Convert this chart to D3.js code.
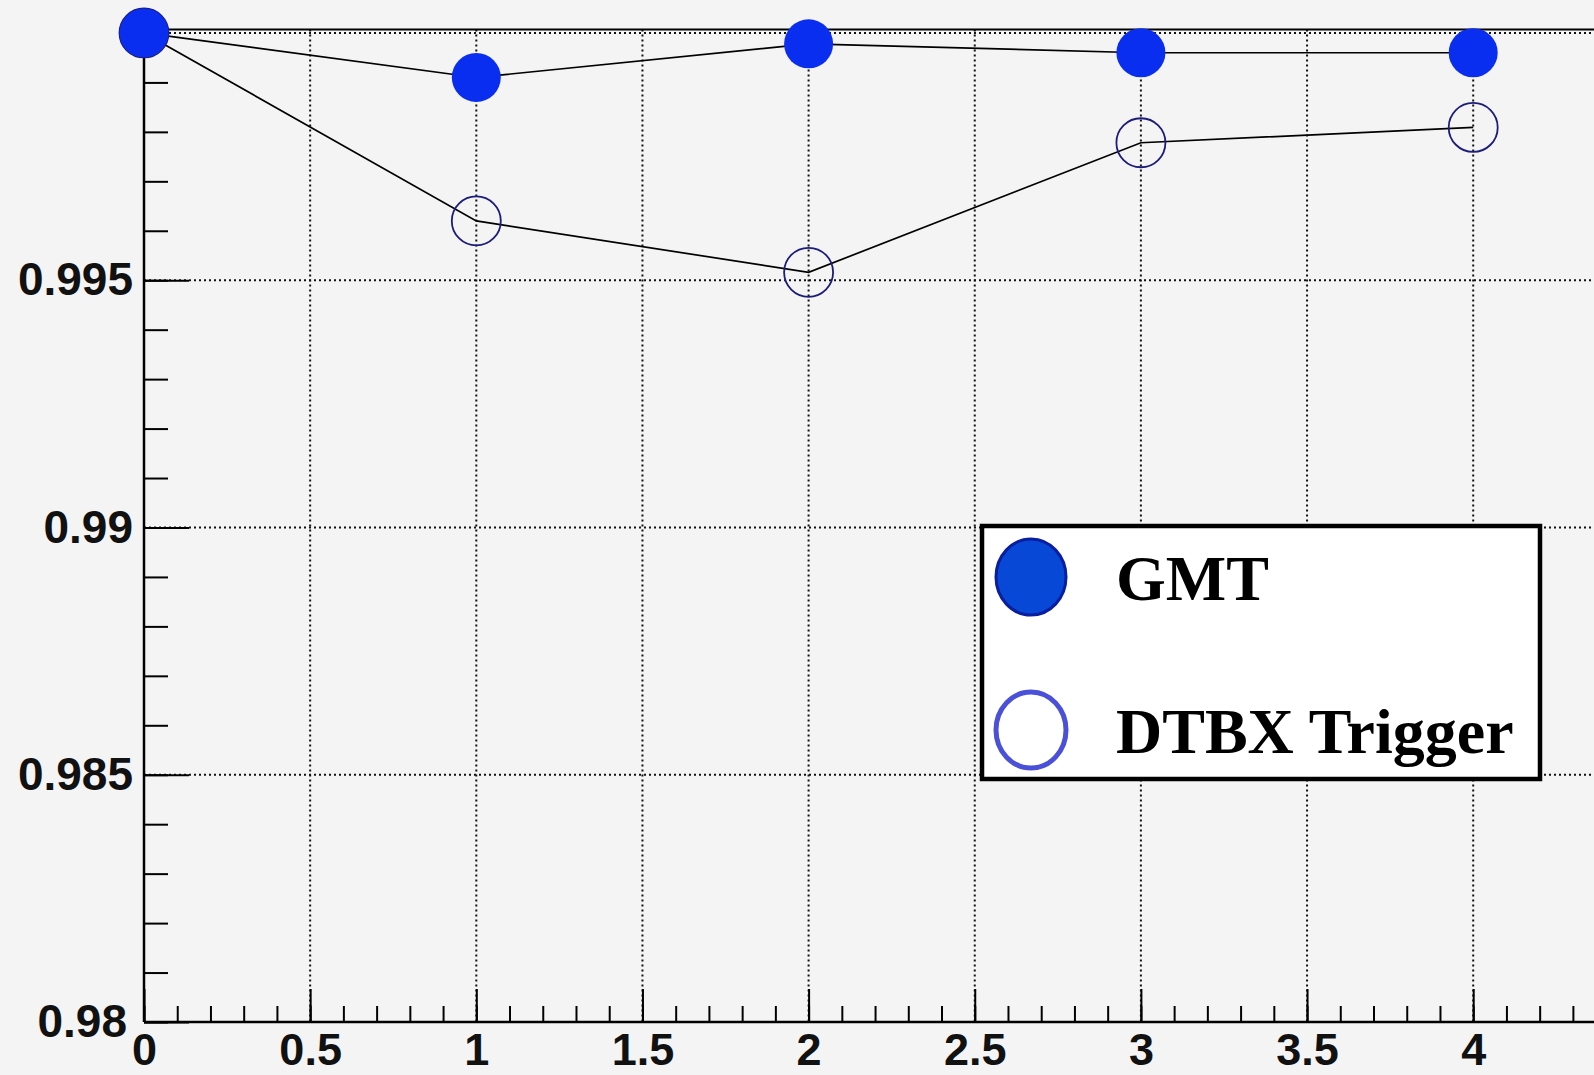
<!DOCTYPE html>
<html lang="en">
<meta charset="utf-8">
<head>
    <script src="https://d3js.org/d3.v7.min.js"></script>
</head>
<style>
	body { margin: 0; background: #f4f4f4; }
	svg text { font-family: "Liberation Sans", Arial, sans-serif; font-weight: bold; fill: #111; }
	.legend text { font-family: "Liberation Serif", "Times New Roman", serif; font-weight: bold; fill: #000; }
</style>
<body>
<script>
// data
var xs = [0, 1, 2, 3, 4];
var gmt = [1.0, 0.9991, 0.99978, 0.9996, 0.9996];
var dtbx = [1.0, 0.9962, 0.99516, 0.99778, 0.99809];
var seriesNames = ["GMT", "DTBX Trigger"];
var yLabelTicks = [0.98, 0.985, 0.99, 0.995];
var yGridTicks = [0.985, 0.99, 0.995, 1.0];
var xLabelTicks = [0, 0.5, 1, 1.5, 2, 2.5, 3, 3.5, 4];

var width = 1594, height = 1075;
var plotLeft = 144, plotBottom = 1022, plotTop = 29.5;
var unit = 332.3;
var yMax = 1.00007;

var svg = d3.select("body").append("svg")
	.attr("width", width)
	.attr("height", height);

var x = d3.scaleLinear().domain([0, 4.4]).range([plotLeft, plotLeft + 4.4 * unit]);
var y = d3.scaleLinear().domain([0.98, yMax]).range([plotBottom, plotTop]);

var minorX = d3.range(0, 45).map(function(i) { return i / 10; });
var minorY = d3.range(0, 21).map(function(i) { return 0.98 + i * 0.001; });

// grid
svg.append("g").selectAll("line")
	.data(xLabelTicks.slice(1))
	.enter().append("line")
	.attr("x1", function(d) { return x(d); })
	.attr("x2", function(d) { return x(d); })
	.attr("y1", y(yMax))
	.attr("y2", plotBottom)
	.attr("stroke", "#111")
	.attr("stroke-width", 2)
	.attr("stroke-dasharray", "2,3");
svg.append("g").selectAll("line")
	.data(yGridTicks)
	.enter().append("line")
	.attr("x1", plotLeft)
	.attr("x2", width)
	.attr("y1", function(d) { return y(d); })
	.attr("y2", function(d) { return y(d); })
	.attr("stroke", "#111")
	.attr("stroke-width", 2)
	.attr("stroke-dasharray", "2,3");

// top frame
svg.append("line")
	.attr("x1", plotLeft).attr("x2", width)
	.attr("y1", y(yMax)).attr("y2", y(yMax))
	.attr("stroke", "#000").attr("stroke-width", 2);

// minor ticks
svg.append("g")
	.attr("transform", "translate(0," + plotBottom + ")")
	.call(d3.axisBottom(x).tickValues(minorX).tickSize(-16).tickFormat(""))
	.call(function(g) { g.select(".domain").remove(); g.selectAll("line").attr("stroke-width", 2); });
svg.append("g")
	.attr("transform", "translate(" + plotLeft + ",0)")
	.call(d3.axisLeft(y).tickValues(minorY).tickSize(-24).tickFormat(""))
	.call(function(g) { g.select(".domain").remove(); g.selectAll("line").attr("stroke-width", 2); });

// major axes
var xAxis = svg.append("g")
	.attr("transform", "translate(0," + plotBottom + ")")
	.call(d3.axisBottom(x).tickValues(xLabelTicks).tickSize(-33).tickSizeOuter(0).tickPadding(11)
		.tickFormat(function(d) { return d3.format("")(d); }));
xAxis.select(".domain").attr("d", "M" + plotLeft + ",0H" + width).attr("stroke-width", 2.5);
xAxis.selectAll("line").attr("stroke-width", 2);
xAxis.selectAll("text").style("font-size", "45px");

var yAxis = svg.append("g")
	.attr("transform", "translate(" + plotLeft + ",0)")
	.call(d3.axisLeft(y).tickValues(yLabelTicks).tickSize(-45).tickSizeOuter(0).tickPadding(11)
		.tickFormat(function(d) { return d3.format("")(d); }));
yAxis.select(".domain").attr("d", "M0," + y(yMax) + "V" + plotBottom).attr("stroke-width", 2.5);
yAxis.selectAll("line").attr("stroke-width", 2);
yAxis.selectAll("text").style("font-size", "46px");
// lowest label sits a little to the left, clear of the x "0"
yAxis.selectAll("text").filter(function(d) { return d == 0.98; })
	.attr("x", -17);

// lines
var line = d3.line()
	.x(function(d) { return x(d[0]); })
	.y(function(d) { return y(d[1]); });
[dtbx, gmt].forEach(function(s) {
	svg.append("path")
		.datum(xs.map(function(v, i) { return [v, s[i]]; }))
		.attr("d", line)
		.attr("fill", "none")
		.attr("stroke", "#000")
		.attr("stroke-width", 1.7);
});

// markers
svg.append("g").selectAll("circle")
	.data(xs)
	.enter().append("circle")
	.attr("cx", function(d) { return x(d); })
	.attr("cy", function(d, i) { return y(dtbx[i]); })
	.attr("r", 24.5)
	.attr("fill", "none")
	.attr("stroke", "#1c1c7a")
	.attr("stroke-width", 1.8);
svg.append("g").selectAll("circle")
	.data(xs)
	.enter().append("circle")
	.attr("cx", function(d) { return x(d); })
	.attr("cy", function(d, i) { return y(gmt[i]); })
	.attr("r", 24.5)
	.attr("fill", "#0a2ef0");

// legend
var lg = svg.append("g").attr("class", "legend");
lg.append("rect")
	.attr("x", 982).attr("y", 526)
	.attr("width", 558).attr("height", 253)
	.attr("fill", "#fff")
	.attr("stroke", "#000")
	.attr("stroke-width", 4.5);
var legRows = lg.selectAll("g.row")
	.data(seriesNames)
	.enter().append("g")
	.attr("class", "row")
	.attr("transform", function(d, i) { return "translate(0," + (i * 153) + ")"; });
legRows.append("ellipse")
	.attr("cx", 1031).attr("cy", 577)
	.attr("rx", 35).attr("ry", 38)
	.attr("fill", function(d, i) { return i == 0 ? "#0848d6" : "#fff"; })
	.attr("stroke", function(d, i) { return i == 0 ? "#0a1ea0" : "#4a50d8"; })
	.attr("stroke-width", function(d, i) { return i == 0 ? 3 : 5; });
legRows.append("text")
	.attr("x", 1116).attr("y", 600)
	.style("font-size", "64px")
	.text(function(d) { return d; });
</script>
</body>
</html>
